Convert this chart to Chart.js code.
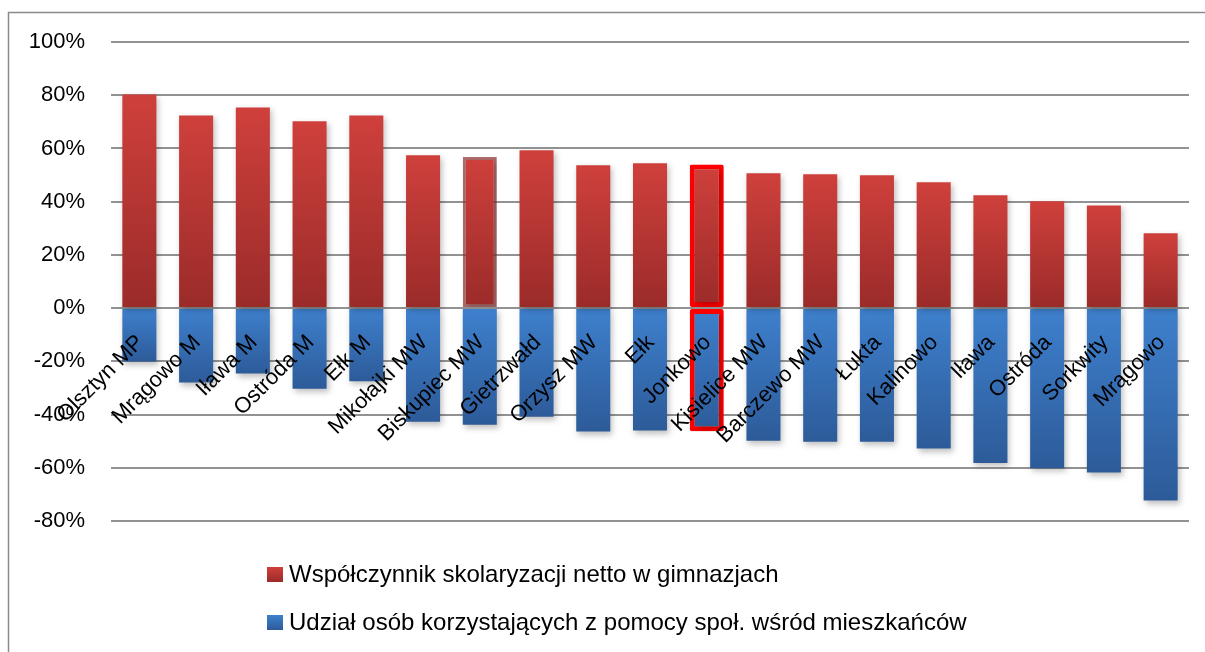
<!DOCTYPE html>
<html>
<head>
<meta charset="utf-8">
<script src="https://cdn.jsdelivr.net/npm/chart.js@4.4.1/dist/chart.umd.min.js"></script>
<style>
  html, body { margin: 0; padding: 0; background: #fff; }
  #wrap { width: 1205px; height: 652px; position: relative; }
</style>
</head>
<body>
<div id="wrap"><canvas id="chart"></canvas></div>
<script>
// categories (gminy)
var gminy = ["Olsztyn MP", "Mrągowo M", "Iława M", "Ostróda M", "Ełk M", "Mikołajki MW",
  "Biskupiec MW", "Gietrzwałd", "Orzysz MW", "Ełk", "Jonkowo", "Kisielice MW",
  "Barczewo MW", "Łukta", "Kalinowo", "Iława", "Ostróda", "Sorkwity", "Mrągowo"];

// series, in %
var skolaryzacja = [80.3, 72.4, 75.4, 70.2, 72.4, 57.4, 56.8, 59.3, 53.7, 54.4, 54.0, 50.7,
  50.3, 49.9, 47.3, 42.4, 40.2, 38.6, 28.1];
var pomocSpol = [-20.1, -28.0, -24.6, -30.3, -27.5, -42.7, -43.8, -40.8, -46.4, -46.0, -46.3,
  -49.8, -50.2, -50.2, -52.8, -58.2, -60.2, -61.8, -72.3];

var seriesNames = ["Współczynnik skolaryzacji netto w gimnazjach",
  "Udział osób korzystających z pomocy społ. wśród mieszkańców"];

var yTicks = [-80, -60, -40, -20, 0, 20, 40, 60, 80, 100];

var FONT = "'Liberation Sans', Arial, sans-serif";
var highlightIdx = 10;   // Jonkowo - ramka czerwona
var outlinedIdx = 6;     // Biskupiec MW

function barGradient(c, light, dark) {
  var chart = c.chart;
  if (!chart.chartArea || c.type !== 'data') return light;
  var y = chart.scales.y;
  var p1 = y.getPixelForValue(c.raw), p0 = y.getPixelForValue(0);
  if (!isFinite(p1) || !isFinite(p0) || p1 === p0) return light;
  var g = chart.ctx.createLinearGradient(0, Math.min(p0, p1), 0, Math.max(p0, p1));
  g.addColorStop(0, light);
  g.addColorStop(1, dark);
  return g;
}

var RED_L = '#CF403C', RED_D = '#9A2B29';
var BLUE_L = '#3E80CD', BLUE_D = '#2D5B99';

// ramka wokol wykresu + cienie slupkow
var framePlugin = {
  id: 'frame',
  beforeDraw: function(chart) {
    var ctx = chart.ctx;
    ctx.save();
    ctx.strokeStyle = '#8a8a8a';
    ctx.lineWidth = 1.5;
    ctx.beginPath();
    ctx.moveTo(8.5, 652);
    ctx.lineTo(8.5, 12.5);
    ctx.lineTo(1206, 12.5);
    ctx.stroke();
    ctx.restore();
  },
  beforeDatasetDraw: function(chart) {
    var ctx = chart.ctx;
    ctx.shadowColor = 'rgba(0,0,0,0.25)';
    ctx.shadowBlur = 6;
    ctx.shadowOffsetX = 2;
    ctx.shadowOffsetY = 3;
  },
  afterDatasetDraw: function(chart) {
    var ctx = chart.ctx;
    ctx.shadowColor = 'rgba(0,0,0,0)';
    ctx.shadowBlur = 0;
    ctx.shadowOffsetX = 0;
    ctx.shadowOffsetY = 0;
  }
};

// etykiety kategorii przy linii 0, obrocone o 45 stopni
var labelPlugin = {
  id: 'zeroLabels',
  afterDatasetsDraw: function(chart) {
    var ctx = chart.ctx;
    var x = chart.scales.x, y = chart.scales.y;
    var y0 = y.getPixelForValue(0);
    ctx.save();
    ctx.font = '22px ' + FONT;
    ctx.fillStyle = '#000';
    ctx.textAlign = 'right';
    ctx.textBaseline = 'middle';
    for (var i = 0; i < gminy.length; i++) {
      var cx = x.getPixelForValue(i);
      ctx.save();
      ctx.translate(cx + 1, y0 + 31);
      ctx.rotate(-Math.PI / 4);
      ctx.fillText(gminy[i], 0, 0);
      ctx.restore();
    }
    ctx.restore();
  }
};

// legenda pod wykresem, jedna pozycja pod druga
var legendPlugin = {
  id: 'stackLegend',
  afterDraw: function(chart) {
    var ctx = chart.ctx;
    var cols = [[RED_L, RED_D], [BLUE_L, BLUE_D]];
    var rows = [575, 623];
    ctx.save();
    ctx.font = '24px ' + FONT;
    ctx.textBaseline = 'middle';
    ctx.textAlign = 'left';
    for (var i = 0; i < seriesNames.length; i++) {
      var top = rows[i] - 8;
      var g = ctx.createLinearGradient(0, top, 0, top + 15);
      g.addColorStop(0, cols[i][0]);
      g.addColorStop(1, cols[i][1]);
      ctx.fillStyle = g;
      ctx.fillRect(267, top, 16, 15);
      ctx.fillStyle = '#000';
      ctx.fillText(seriesNames[i], 289, rows[i]);
    }
    ctx.restore();
  }
};

var ctx = document.getElementById('chart');

var chartData = {
  labels: gminy,
  datasets: [{
    label: seriesNames[0],
    data: skolaryzacja,
    backgroundColor: function(c) { return barGradient(c, RED_L, RED_D); },
    borderColor: function(c) {
      return c.dataIndex === outlinedIdx ? 'rgba(150,60,60,0.75)' : '#FF0000';
    },
    borderWidth: function(c) {
      if (c.dataIndex === highlightIdx) return 5;
      if (c.dataIndex === outlinedIdx) return 3;
      return 0;
    },
    borderRadius: function(c) { return c.dataIndex === highlightIdx ? 2 : 0; },
    borderSkipped: false,
    barPercentage: 0.6,
    categoryPercentage: 1.0
  }, {
    label: seriesNames[1],
    data: pomocSpol,
    backgroundColor: function(c) { return barGradient(c, BLUE_L, BLUE_D); },
    borderColor: '#FF0000',
    borderWidth: function(c) { return c.dataIndex === highlightIdx ? 5 : 0; },
    borderRadius: function(c) { return c.dataIndex === highlightIdx ? 2 : 0; },
    borderSkipped: false,
    barPercentage: 0.6,
    categoryPercentage: 1.0
  }]
};

var config = {
  type: 'bar',
  data: chartData,
  options: {
    responsive: true,
    maintainAspectRatio: false,
    animation: false,
    layout: { padding: { left: 0, top: 42, right: 16, bottom: 131 } },
    plugins: {
      legend: { display: false },
      tooltip: { enabled: false }
    },
    scales: {
      x: {
        stacked: true,
        display: false,
        ticks: { autoSkip: false }
      },
      y: {
        stacked: true,
        min: -80,
        max: 100,
        afterFit: function(scale) { scale.width = 111; },
        afterBuildTicks: function(scale) {
          scale.ticks = yTicks.map(function(v) { return { value: v }; });
        },
        ticks: {
          padding: 26,
          color: '#000',
          font: { family: FONT, size: 22 },
          callback: function(v) { return v + '%'; }
        },
        grid: {
          color: '#929292',
          lineWidth: 2,
          drawTicks: false
        },
        border: { display: false }
      }
    }
  },
  plugins: [framePlugin, labelPlugin, legendPlugin]
};

var chart = new Chart(ctx, config);
</script>
</body>
</html>
